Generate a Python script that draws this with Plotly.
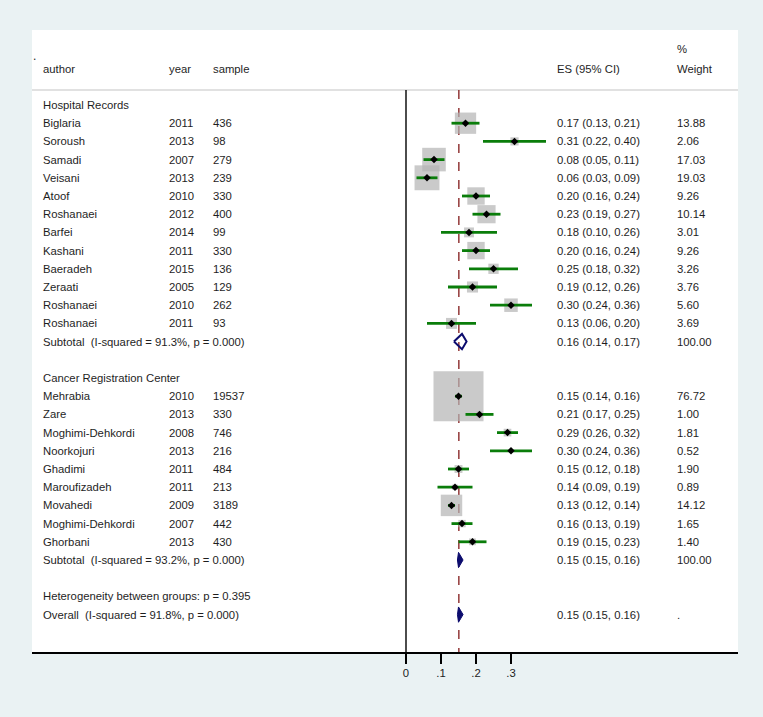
import plotly.graph_objects as go

# ---------------- data ----------------
hosp_author = ["Biglaria", "Soroush", "Samadi", "Veisani", "Atoof", "Roshanaei",
               "Barfei", "Kashani", "Baeradeh", "Zeraati", "Roshanaei", "Roshanaei"]
hosp_year = [2011, 2013, 2007, 2013, 2010, 2012, 2014, 2011, 2015, 2005, 2010, 2011]
hosp_sample = [436, 98, 279, 239, 330, 400, 99, 330, 136, 129, 262, 93]
hosp_es = [0.17, 0.31, 0.08, 0.06, 0.20, 0.23, 0.18, 0.20, 0.25, 0.19, 0.30, 0.13]
hosp_lo = [0.13, 0.22, 0.05, 0.03, 0.16, 0.19, 0.10, 0.16, 0.18, 0.12, 0.24, 0.06]
hosp_hi = [0.21, 0.40, 0.11, 0.09, 0.24, 0.27, 0.26, 0.24, 0.32, 0.26, 0.36, 0.20]
hosp_w = [13.88, 2.06, 17.03, 19.03, 9.26, 10.14, 3.01, 9.26, 3.26, 3.76, 5.60, 3.69]
hosp_sub = (0.16, 0.14, 0.17)
hosp_sub_label = "Subtotal\u00a0 (I-squared = 91.3%, p = 0.000)"

canc_author = ["Mehrabia", "Zare", "Moghimi-Dehkordi", "Noorkojuri", "Ghadimi",
               "Maroufizadeh", "Movahedi", "Moghimi-Dehkordi", "Ghorbani"]
canc_year = [2010, 2013, 2008, 2013, 2011, 2011, 2009, 2007, 2013]
canc_sample = [19537, 330, 746, 216, 484, 213, 3189, 442, 430]
canc_es = [0.15, 0.21, 0.29, 0.30, 0.15, 0.14, 0.13, 0.16, 0.19]
canc_lo = [0.14, 0.17, 0.26, 0.24, 0.12, 0.09, 0.12, 0.13, 0.15]
canc_hi = [0.16, 0.25, 0.32, 0.36, 0.18, 0.19, 0.14, 0.19, 0.23]
canc_w = [76.72, 1.00, 1.81, 0.52, 1.90, 0.89, 14.12, 1.65, 1.40]
canc_sub = (0.15, 0.15, 0.16)
canc_sub_label = "Subtotal\u00a0 (I-squared = 93.2%, p = 0.000)"

overall = (0.15, 0.15, 0.16)
overall_label = "Overall\u00a0 (I-squared = 91.8%, p = 0.000)"
heterogeneity_label = "Heterogeneity between groups: p = 0.395"
group_names = ["Hospital Records", "Cancer Registration Center"]

tick_vals = [0, 0.1, 0.2, 0.3]
tick_text = ["0", ".1", ".2", ".3"]

# ---------------- layout constants ----------------
W, H = 763, 717
L, R, T, B = 32, 738, 30, 652          # white plot area in pixels
X0_PX, PX_PER_UNIT = 406, 350.0         # pixel of x=0, pixels per unit
ROW0_PX, ROW_PX = 105, 18.2             # pixel of row 0, row height
BOX_K = 5.71                             # box side (px) per sqrt(weight)

def xdata(px):
    return (px - X0_PX) / PX_PER_UNIT

def yrow(py):
    return (py - ROW0_PX) / ROW_PX

x_range = [xdata(L), xdata(R)]
y_range = [yrow(B), yrow(T)]

TXT = "#1e1e1e"
FONT = "Liberation Sans, Arial, sans-serif"
FS = 11.3
NAVY = "#0c0c6e"

# ---------------- build rows ----------------
rows = []  # (row index, kind, info)
k = 0
rows.append((k, "group", group_names[0])); k += 1
for i in range(len(hosp_author)):
    rows.append((k, "study", (hosp_author[i], hosp_year[i], hosp_sample[i],
                              hosp_es[i], hosp_lo[i], hosp_hi[i], hosp_w[i])))
    k += 1
rows.append((k, "sub", (hosp_sub_label, hosp_sub, False))); k += 1
k += 1
rows.append((k, "group", group_names[1])); k += 1
for i in range(len(canc_author)):
    rows.append((k, "study", (canc_author[i], canc_year[i], canc_sample[i],
                              canc_es[i], canc_lo[i], canc_hi[i], canc_w[i])))
    k += 1
rows.append((k, "sub", (canc_sub_label, canc_sub, True))); k += 1
k += 1
rows.append((k, "text", heterogeneity_label)); k += 1
rows.append((k, "overall", (overall_label, overall, True)))

fig = go.Figure()
annotations = []

def add_text(xpx, yr, text, anchor="left"):
    annotations.append(dict(x=xdata(xpx), y=yr, xref="x", yref="y", text=text,
                            showarrow=False, xanchor=anchor, yanchor="middle",
                            font=dict(family=FONT, size=FS, color=TXT), borderpad=0))

COL_AUTHOR, COL_YEAR, COL_SAMPLE, COL_ES, COL_W = 42, 168, 212, 556, 676

# header
add_text(COL_AUTHOR, -2.0, "author")
add_text(COL_YEAR, -2.0, "year")
add_text(COL_SAMPLE, -2.0, "sample")
add_text(COL_ES, -2.0, "ES (95% CI)")
add_text(COL_W, -3.1, "%")
add_text(COL_W, -2.0, "Weight")

box_x, box_y, box_s = [], [], []
dot_x, dot_y = [], []
ci_x, ci_y = [], []
diamonds = []

for (r, kind, info) in rows:
    if kind == "group":
        add_text(COL_AUTHOR, r, info)
    elif kind == "text":
        add_text(COL_AUTHOR, r, info)
    elif kind == "study":
        a, yv, s, es, lo, hi, w = info
        add_text(COL_AUTHOR, r, a)
        add_text(COL_YEAR, r, str(yv))
        add_text(COL_SAMPLE, r, str(s))
        add_text(COL_ES, r, f"{es:.2f} ({lo:.2f}, {hi:.2f})")
        add_text(COL_W, r, f"{w:.2f}")
        box_x.append(es); box_y.append(r); box_s.append(BOX_K * w ** 0.5)
        dot_x.append(es); dot_y.append(r)
        ci_x += [lo, hi, None]; ci_y += [r, r, None]
    else:
        lab, (es, lo, hi), filled = info
        add_text(COL_AUTHOR, r, lab)
        add_text(COL_ES, r, f"{es:.2f} ({lo:.2f}, {hi:.2f})")
        add_text(COL_W, r, "100.00" if kind == "sub" else ".")
        diamonds.append((r, es, lo, hi, filled))

fig.add_trace(go.Scatter(x=box_x, y=box_y, mode="markers",
                         marker=dict(symbol="square", size=box_s, color="#b4b4b4",
                                     line=dict(width=0)),
                         hoverinfo="skip", showlegend=False))
fig.add_trace(go.Scatter(x=ci_x, y=ci_y, mode="lines",
                         line=dict(color="#0a7d0a", width=2.8),
                         hoverinfo="skip", showlegend=False))
fig.add_trace(go.Scatter(x=dot_x, y=dot_y, mode="markers",
                         marker=dict(symbol="diamond", size=5.8, color="black",
                                     line=dict(width=0)),
                         hoverinfo="skip", showlegend=False))

HH = 0.42
for (r, es, lo, hi, filled) in diamonds:
    lo_d, hi_d = lo - 0.003, hi + 0.003
    fig.add_trace(go.Scatter(
        x=[lo_d, es, hi_d, es, lo_d], y=[r, r - HH, r, r + HH, r],
        mode="lines", fill="toself" if filled else None,
        fillcolor=NAVY if filled else None,
        line=dict(color=NAVY, width=1 if filled else 2),
        hoverinfo="skip", showlegend=False))

hdr_row = yrow(90)
shapes = [
    dict(type="line", xref="paper", yref="y", x0=0, x1=1, y0=hdr_row, y1=hdr_row,
         line=dict(color="#c4c4c4", width=1.2), layer="below"),
    dict(type="line", xref="x", yref="y", x0=0, x1=0, y0=hdr_row, y1=y_range[0],
         line=dict(color="black", width=1.4), layer="below"),
    dict(type="line", xref="x", yref="y", x0=overall[0] + 0.001, x1=overall[0] + 0.001,
         y0=hdr_row, y1=y_range[0],
         line=dict(color="#8b2a2a", width=1.4, dash="dash"), layer="below"),
]

annotations.append(dict(x=(34.5 - L) / (R - L), y=yrow(56), xref="paper", yref="y",
                        text=".", showarrow=False,
                        font=dict(family=FONT, size=12, color=TXT),
                        xanchor="center", yanchor="middle"))

fig.update_layout(
    width=W, height=H,
    margin=dict(l=L, r=W - R, t=T, b=H - B, pad=0),
    paper_bgcolor="#eaf2f3", plot_bgcolor="white",
    xaxis=dict(range=x_range, tickvals=tick_vals, ticktext=tick_text,
               ticks="outside", ticklen=10, tickwidth=1.4, tickcolor="black",
               showline=True, linecolor="black", linewidth=1.6,
               showgrid=False, zeroline=False, fixedrange=True,
               tickfont=dict(family=FONT, size=FS, color="#222")),
    yaxis=dict(range=y_range, visible=False, showgrid=False, zeroline=False,
               fixedrange=True),
    shapes=shapes, annotations=annotations,
    showlegend=False, hovermode=False,
)

fig.write_html("out.html",
               config={"displayModeBar": False, "staticPlot": True},
               post_script="document.body.style.margin='0';"
                           "document.body.style.padding='0';"
                           "document.body.style.overflow='hidden';"
                           "document.body.style.background='#eaf2f3';")
